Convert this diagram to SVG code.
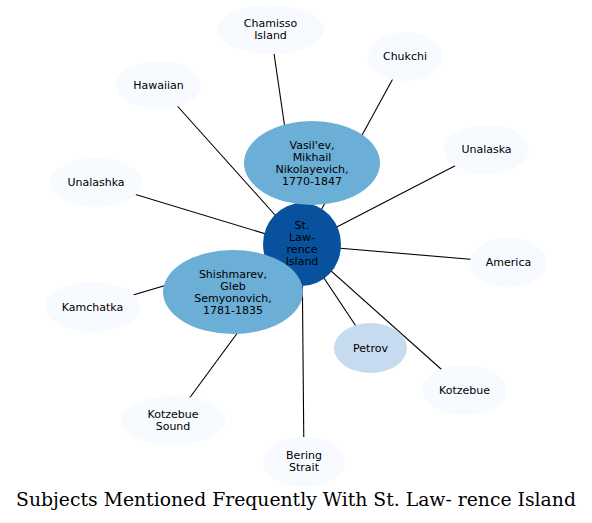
<svg xmlns="http://www.w3.org/2000/svg" width="592" height="523" viewBox="0 0 592 523">
<style>
.e{stroke:#000;stroke-width:1.1;fill:none}
.o{fill:#f7fbff}
.m{fill:#6baed6}
.p{fill:#c6dbef}
.c{fill:#08519c}
text{font-family:"DejaVu Sans","Liberation Sans",sans-serif;font-size:11px;fill:#000;text-anchor:middle}
.t{font-family:"DejaVu Serif","Liberation Serif",serif;font-size:18.8px}
</style>
<rect width="592" height="523" fill="#fff"/>
<g id="edges">
<line class="e" x1="302" y1="245" x2="270.5" y2="29.5"/>
<line class="e" x1="302" y1="245" x2="405" y2="56.5"/>
<line class="e" x1="302" y1="245" x2="158.5" y2="85"/>
<line class="e" x1="302" y1="245" x2="486.5" y2="149.5"/>
<line class="e" x1="302" y1="245" x2="96" y2="182.5"/>
<line class="e" x1="302" y1="245" x2="508.5" y2="262.5"/>
<line class="e" x1="302" y1="245" x2="92.5" y2="307"/>
<line class="e" x1="302" y1="245" x2="370.5" y2="348"/>
<line class="e" x1="302" y1="245" x2="464.5" y2="390"/>
<line class="e" x1="302" y1="245" x2="173" y2="420.5"/>
<line class="e" x1="302" y1="245" x2="304" y2="462"/>
<line class="e" x1="302" y1="245" x2="312" y2="163"/>
<line class="e" x1="302" y1="245" x2="233" y2="292"/>
</g>
<g id="chamisso"><ellipse class="o" cx="270.5" cy="29.5" rx="53.5" ry="24.5"/><text x="270.5" y="26.5">Chamisso</text><text x="270.5" y="38.5">Island</text></g>
<g id="chukchi"><ellipse class="o" cx="405" cy="56.5" rx="37" ry="24.5"/><text x="405" y="60">Chukchi</text></g>
<g id="hawaiian"><ellipse class="o" cx="158.5" cy="85" rx="42.5" ry="24"/><text x="158.5" y="88.5">Hawaiian</text></g>
<g id="unalaska"><ellipse class="o" cx="486.5" cy="149.5" rx="42.5" ry="24.5"/><text x="486.5" y="153">Unalaska</text></g>
<g id="unalashka"><ellipse class="o" cx="96" cy="182.5" rx="46" ry="24.5"/><text x="96" y="186">Unalashka</text></g>
<g id="america"><ellipse class="o" cx="508.5" cy="262.5" rx="38.5" ry="24.5"/><text x="508.5" y="266">America</text></g>
<g id="kamchatka"><ellipse class="o" cx="92.5" cy="307" rx="47.5" ry="25"/><text x="92.5" y="310.5">Kamchatka</text></g>
<g id="petrov"><ellipse class="p" cx="370.5" cy="348" rx="36.5" ry="25"/><text x="370.5" y="351.5">Petrov</text></g>
<g id="kotzebue"><ellipse class="o" cx="464.5" cy="390" rx="42.5" ry="25"/><text x="464.5" y="393.5">Kotzebue</text></g>
<g id="kotzebue-sound"><ellipse class="o" cx="173" cy="420.5" rx="52" ry="24.5"/><text x="173" y="417.5">Kotzebue</text><text x="173" y="429.5">Sound</text></g>
<g id="bering-strait"><ellipse class="o" cx="304" cy="462" rx="41" ry="25"/><text x="304" y="459">Bering</text><text x="304" y="471">Strait</text></g>
<g id="st-lawrence"><ellipse class="c" cx="302" cy="244.5" rx="39" ry="41.5"/><text x="302" y="229">St.</text><text x="302" y="241">Law-</text><text x="302" y="253">rence</text><text x="302" y="265">Island</text></g>
<g id="vasilev"><ellipse class="m" cx="312" cy="163" rx="68" ry="42"/><text x="312" y="148.5">Vasil'ev,</text><text x="312" y="160.5">Mikhail</text><text x="312" y="172.5">Nikolayevich,</text><text x="312" y="184.5">1770-1847</text></g>
<g id="shishmarev"><ellipse class="m" cx="233" cy="292" rx="70" ry="42"/><text x="233" y="277.5">Shishmarev,</text><text x="233" y="289.5">Gleb</text><text x="233" y="301.5">Semyonovich,</text><text x="233" y="313.5">1781-1835</text></g>
<text class="t" x="296" y="506">Subjects Mentioned Frequently With St. Law- rence Island</text>
</svg>
